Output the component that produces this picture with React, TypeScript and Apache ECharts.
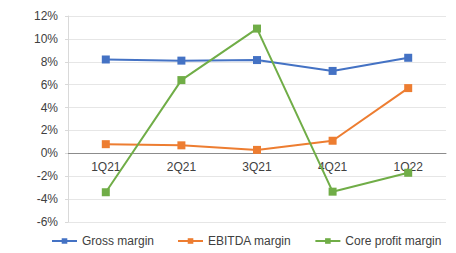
import React, { useEffect, useRef } from "react";
import * as echarts from "echarts";

const categories = ["1Q21", "2Q21", "3Q21", "4Q21", "1Q22"];
const grossMargin = [8.2, 8.1, 8.15, 7.2, 8.35];
const ebitdaMargin = [0.8, 0.7, 0.3, 1.1, 5.7];
const coreProfitMargin = [-3.4, 6.4, 10.9, -3.35, -1.7];
const seriesNames = ["Gross margin", "EBITDA margin", "Core profit margin"];
const colors = ["#4472C4", "#ED7D31", "#70AD47"];

export default function App() {
  const ref = useRef<HTMLDivElement>(null);
  useEffect(() => {
    if (!ref.current) return;
    const chart = echarts.init(ref.current, null, { renderer: "svg" });
    const datasets = [grossMargin, ebitdaMargin, coreProfitMargin];
    chart.setOption({
      animation: false,
      textStyle: { fontFamily: "Liberation Sans, Arial, sans-serif" },
      grid: { left: 68, right: 10, top: 16, bottom: 31 },
      legend: {
        bottom: 1,
        left: 46,
        itemWidth: 25,
        itemHeight: 7,
        itemGap: 23,
        textStyle: { color: "#404040", fontSize: 12 },
        data: seriesNames,
      },
      xAxis: {
        type: "category",
        data: categories,
        boundaryGap: true,
        axisLine: { onZero: true, lineStyle: { color: "#8c8c8c", width: 1 } },
        axisTick: { show: false },
        axisLabel: { color: "#404040", fontSize: 12, margin: -61 },
      },
      yAxis: {
        type: "value",
        min: -6,
        max: 12,
        interval: 2,
        axisLine: { show: true, lineStyle: { color: "#d9d9d9" } },
        axisTick: { show: true, length: 3, lineStyle: { color: "#d9d9d9" } },
        axisLabel: { color: "#404040", fontSize: 12, margin: 10, formatter: "{value}%" },
        splitLine: { lineStyle: { color: "#e6e6e6" } },
      },
      series: datasets.map((d, i) => ({
        name: seriesNames[i],
        type: "line",
        data: d,
        symbol: "rect",
        symbolSize: 8,
        lineStyle: { color: colors[i], width: 2 },
        itemStyle: { color: colors[i] },
      })),
    });
    return () => chart.dispose();
  }, []);
  return <div ref={ref} style={{ width: 456, height: 253, position: "absolute", left: 0, top: 0 }} />;
}
